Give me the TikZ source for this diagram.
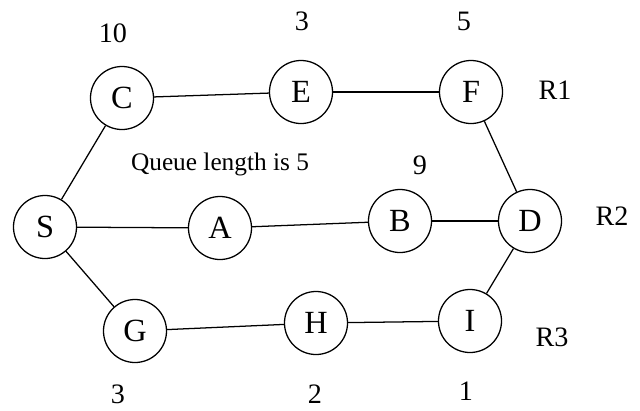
\documentclass[tikz,border=0pt]{standalone}
\usepackage{fontspec}
\setmainfont{Liberation Serif}

\begin{document}
\begin{tikzpicture}[x=0.025cm, y=-0.025cm,
		router/.style={draw, circle, line width=0.9pt, minimum size=1.575cm, inner sep=0pt, font=\fontsize{23}{27}\selectfont},
		weight/.style={inner sep=0pt, font=\fontsize{20}{24}\selectfont},
		link/.style={line width=0.9pt}]

				\useasboundingbox (0, 0) rectangle (640, 410);

				% routers, top row
				\node [router] (C) at (122, 98) {C};
				\node [router] (E) at (301, 92) {E};
				\node [router] (F) at (471, 92) {F};

				% middle row
				\node [router] (S) at (45, 227) {S};
				\node [router] (A) at (220, 228) {A};
				\node [router] (B) at (400, 221) {B};
				\node [router] (D) at (530, 221) {D};

				% bottom row
				\node [router] (G) at (135, 331) {G};
				\node [router] (H) at (316, 323) {H};
				\node [router] (I) at (470, 321) {I};

				% queue lengths and route names
				\node [weight] (wC) at (113, 33) {10};
				\node [weight] (wE) at (302, 21) {3};
				\node [weight] (wF) at (464, 21) {5};
				\node [weight] (wB) at (420, 165) {9};
				\node [weight] (wG) at (118, 394) {3};
				\node [weight] (wH) at (315, 394) {2};
				\node [weight] (wI) at (466, 391) {1};
				\node [weight] (r1) at (555, 90) {R1};
				\node [weight] (r2) at (612, 216) {R2};
				\node [weight] (r3) at (552, 337) {R3};
				\node [inner sep=0pt, font=\fontsize{18}{22}\selectfont] (queue) at (220, 164) {Queue length is 5};

				\draw [link] (S) -- (C);
				\draw [link] (C) -- (E);
				\draw [link] (E) -- (F);
				\draw [link] (F) -- (D);
				\draw [link] (S) -- (A);
				\draw [link] (A) -- (B);
				\draw [link] (B) -- (D);
				\draw [link] (S) -- (G);
				\draw [link] (G) -- (H);
				\draw [link] (H) -- (I);
				\draw [link] (I) -- (D);
		\end{tikzpicture}
\end{document}
